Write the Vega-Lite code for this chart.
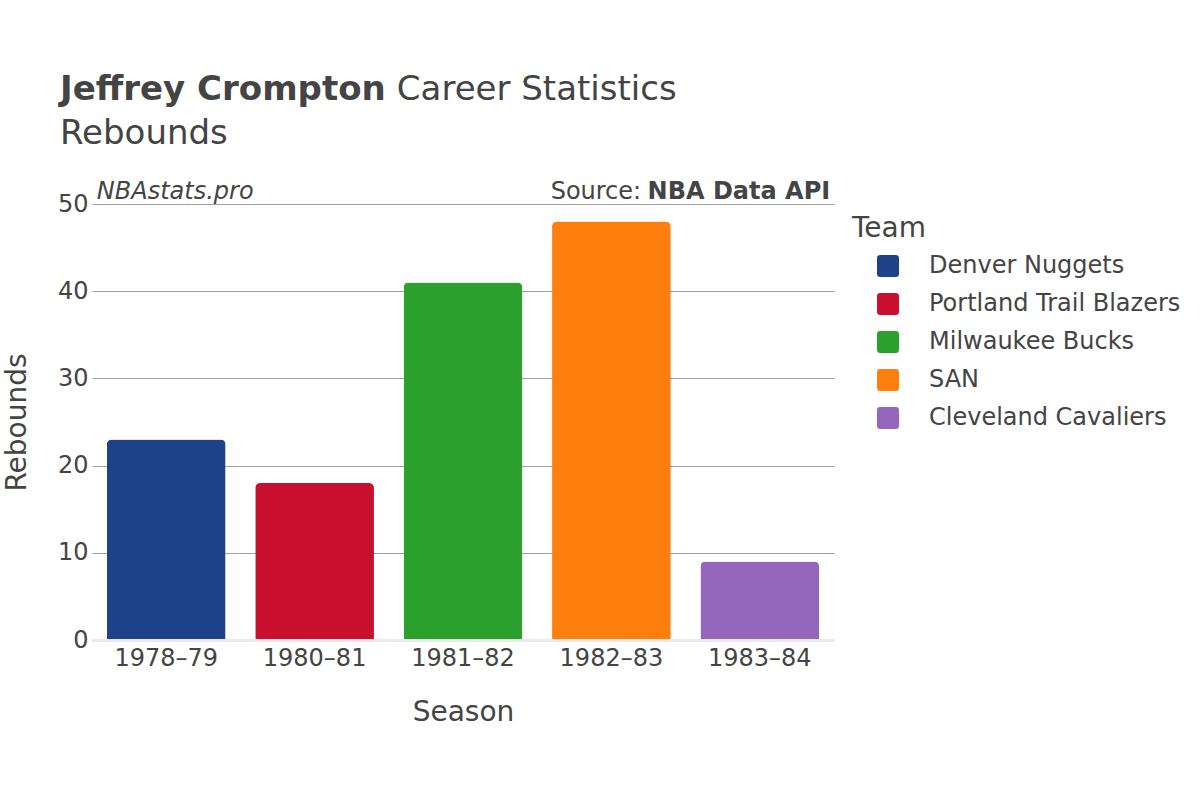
{
  "$schema": "https://vega.github.io/schema/vega-lite/v6.json",
  "width": 742,
  "height": 436,
  "autosize": {"type": "none"},
  "padding": {"left": 92, "top": 204, "right": 366, "bottom": 160},
  "background": "white",
  "config": {
    "font": "DejaVu Sans",
    "view": {"stroke": null},
    "text": {"font": "DejaVu Sans", "color": "#444"}
  },
  "title": {
    "text": "Jeffrey Crompton",
    "subtitle": "Rebounds",
    "anchor": "start",
    "frame": "group",
    "dx": -32,
    "dy": 78,
    "offset": 0,
    "fontSize": 34,
    "fontWeight": "bold",
    "color": "#444",
    "subtitleFontSize": 34,
    "subtitleColor": "#444",
    "subtitlePadding": 10,
    "font": "DejaVu Sans",
    "subtitleFont": "DejaVu Sans"
  },
  "encoding": {
    "x": {
      "field": "Season",
      "type": "nominal",
      "sort": null,
      "scale": {"paddingInner": 0.2, "paddingOuter": 0.1},
      "axis": {
        "title": "Season",
        "labelAngle": 0,
        "labelFontSize": 24,
        "labelColor": "#444",
        "labelPadding": 6,
        "ticks": false,
        "domainColor": "#ebebeb",
        "domainWidth": 3,
        "titleFontSize": 28,
        "titleFontWeight": "normal",
        "titleColor": "#444",
        "titlePadding": 28,
        "zindex": 1
      }
    },
    "y": {
      "field": "Rebounds",
      "type": "quantitative",
      "scale": {"domain": [0, 50]},
      "axis": {
        "title": "Rebounds",
        "values": [0, 10, 20, 30, 40, 50],
        "labelFontSize": 24,
        "labelColor": "#444",
        "labelPadding": 4,
        "ticks": false,
        "domain": false,
        "gridColor": "#a0a0a0",
        "gridWidth": 1,
        "titleFontSize": 28,
        "titleFontWeight": "normal",
        "titleColor": "#444",
        "titlePadding": 26
      }
    }
  },
  "layer": [
    {
      "data": {
        "values": [
          {"Season": "1978–79", "Team": "Denver Nuggets", "Rebounds": 23},
          {"Season": "1980–81", "Team": "Portland Trail Blazers", "Rebounds": 18},
          {"Season": "1981–82", "Team": "Milwaukee Bucks", "Rebounds": 41},
          {"Season": "1982–83", "Team": "SAN", "Rebounds": 48},
          {"Season": "1983–84", "Team": "Cleveland Cavaliers", "Rebounds": 9}
        ]
      },
      "mark": {"type": "bar", "cornerRadiusTopLeft": 5, "cornerRadiusTopRight": 5},
      "encoding": {
        "color": {
          "field": "Team",
          "type": "nominal",
          "scale": {
            "domain": ["Denver Nuggets", "Portland Trail Blazers", "Milwaukee Bucks", "SAN", "Cleveland Cavaliers"],
            "range": ["#1d428a", "#c8102e", "#2ca02c", "#ff7f0e", "#9467bd"]
          },
          "legend": {
            "title": "Team",
            "orient": "right",
            "offset": 7,
            "padding": 11,
            "titleFontSize": 28,
            "titleFontWeight": "normal",
            "titleColor": "#444",
            "titlePadding": 11,
            "labelFontSize": 24,
            "labelColor": "#444",
            "labelLimit": 0,
            "labelOffset": 29,
            "symbolOffset": 24,
            "symbolType": "M -0.7 -1 L 0.7 -1 Q 1 -1 1 -0.7 L 1 0.7 Q 1 1 0.7 1 L -0.7 1 Q -1 1 -1 0.7 L -1 -0.7 Q -1 -1 -0.7 -1 Z",
            "symbolSize": 484,
            "symbolStrokeWidth": 0,
            "symbolOpacity": 1,
            "rowPadding": 14
          }
        }
      }
    },
    {
      "data": {"values": [{"label": "NBAstats.pro", "Season": "1978–79", "Rebounds": 50}]},
      "mark": {"type": "text", "fontStyle": "italic", "fontSize": 24, "align": "left", "baseline": "alphabetic", "dx": -10, "dy": -5, "color": "#444"},
      "encoding": {
        "x": {"field": "Season", "type": "nominal", "bandPosition": 0},
        "text": {"field": "label"}
      }
    },
    {
      "data": {"values": [{"label": "NBA Data API", "Season": "1983–84", "Rebounds": 50}]},
      "mark": {"type": "text", "fontWeight": "bold", "fontSize": 24, "align": "right", "baseline": "alphabetic", "dx": 11, "dy": -5, "color": "#444"},
      "encoding": {
        "x": {"field": "Season", "type": "nominal", "bandPosition": 1},
        "text": {"field": "label"}
      }
    },
    {
      "data": {"values": [{"label": "Source:", "Season": "1983–84", "Rebounds": 50}]},
      "mark": {"type": "text", "fontSize": 24, "align": "right", "baseline": "alphabetic", "dx": -178, "dy": -5, "color": "#444"},
      "encoding": {
        "x": {"field": "Season", "type": "nominal", "bandPosition": 1},
        "text": {"field": "label"}
      }
    },
    {
      "data": {"values": [{"label": "Career Statistics", "Season": "1978–79", "Rebounds": 50}]},
      "mark": {"type": "text", "fontSize": 34, "align": "left", "baseline": "alphabetic", "dx": 290, "dy": -104, "color": "#444"},
      "encoding": {
        "x": {"field": "Season", "type": "nominal", "bandPosition": 0},
        "text": {"field": "label"}
      }
    }
  ]
}
